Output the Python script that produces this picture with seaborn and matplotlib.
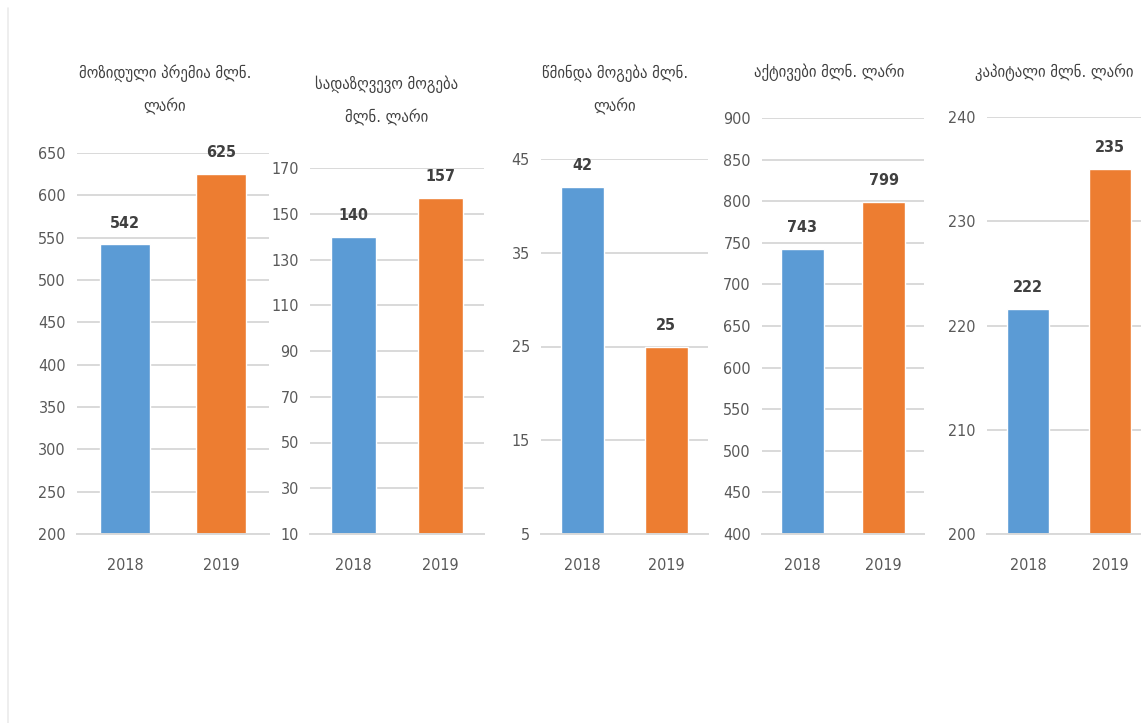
import matplotlib
matplotlib.use("Agg")
import matplotlib.pyplot as plt
import seaborn as sns
import pandas as pd
from matplotlib.lines import Line2D

# ---- data (million GEL) ----
years = ["2018", "2019"]
premiums = [542, 625]
insurance_profit = [140, 157]
net_profit = [42, 25]
assets = [743, 799]
capital = [221.6, 235]

titles = [
    "მოზიდული პრემია მლნ.\nლარი",
    "სადაზღვევო მოგება\nმლნ. ლარი",
    "წმინდა მოგება მლნ.\nლარი",
    "აქტივები მლნ. ლარი",
    "კაპიტალი მლნ. ლარი",
]
series = [premiums, insurance_profit, net_profit, assets, capital]
y_ranges = [(200, 650, 50), (10, 170, 20), (5, 45, 10), (400, 900, 50), (200, 240, 10)]

# ---- styling ----
BLUE = "#5B9BD5"
ORANGE = "#ED7D31"
TEXT = "#595959"
LABEL = "#404040"
TITLE = "#404040"
GRID = "#D9D9D9"

sns.set_theme(style="white")
plt.rcParams["font.family"] = ["DejaVu Sans"]
plt.rcParams["font.stretch"] = "condensed"

W, H = 1141, 723
fig = plt.figure(figsize=(W / 100, H / 100), dpi=100)
fig.patch.set_facecolor("white")

# panel geometry in pixels: left, right, top (all share the same baseline)
panels_px = [(77, 269, 153), (310, 484, 168), (541, 708, 159), (762, 924, 118), (987, 1151, 117)]
base_px = 534
title_px = [(165, 90), (387, 101), (615, 90), (829, 72), (1054, 72)]

for vals, title, (lo, hi, step), (l, r, t), (tx, ty) in zip(series, titles, y_ranges, panels_px, title_px):
    ax = fig.add_axes([l / W, 1 - base_px / H, (r - l) / W, (base_px - t) / H])
    df = pd.DataFrame({"year": years, "value": vals})
    sns.barplot(data=df, x="year", y="value", hue="year", palette=[BLUE, ORANGE],
                width=0.52, legend=False, ax=ax, saturation=1)
    ax.set_xlim(-0.5, 1.5)
    ax.set_ylim(lo, hi)
    ax.set_yticks(range(lo, hi + 1, step))
    ax.yaxis.grid(True, color=GRID, linewidth=1.4)
    ax.set_axisbelow(True)
    for side in ["left", "right", "top"]:
        ax.spines[side].set_visible(False)
    ax.spines["bottom"].set_color(GRID)
    ax.spines["bottom"].set_linewidth(1.4)
    ax.tick_params(axis="both", length=0, labelsize=11.5, labelcolor=TEXT)
    ax.tick_params(axis="y", pad=8)
    ax.tick_params(axis="x", pad=17)
    ax.set_xlabel("")
    ax.set_ylabel("")
    for i, v in enumerate(vals):
        ax.annotate(f"{v:.0f}", (i, v), xytext=(0, 10), textcoords="offset points",
                    ha="center", va="bottom", fontsize=11.5, color=LABEL, fontweight="bold")
    fig.text(tx / W, 1 - ty / H, title, ha="center", va="center", fontsize=11.8,
             color=TITLE, linespacing=2.2)

# faint frame edge on the left
fig.add_artist(Line2D([8 / W, 8 / W], [0, 1 - 8 / H], color="#EBEBEB", linewidth=1.2))

fig.savefig("out.png", dpi=100, facecolor="white")
